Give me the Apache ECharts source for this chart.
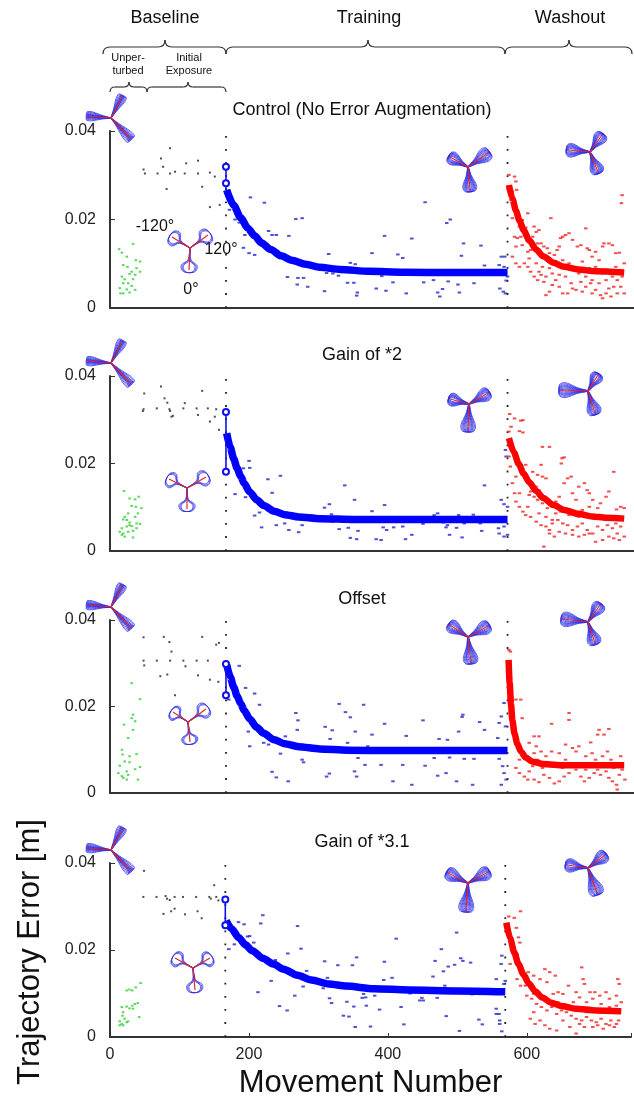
<!DOCTYPE html>
<html>
<head>
<meta charset="utf-8">
<title>Trajectory Error</title>
<script src="https://cdn.jsdelivr.net/npm/echarts@6/dist/echarts.min.js"></script>
<style>
html, body { margin: 0; padding: 0; background: #fff; }
#chart { width: 634px; height: 1100px; }
</style>
</head>
<body>
<div id="chart"></div>
<script>
// ---- data: [movement number, trajectory error (m)] ----
const phaseBounds = [166, 569];
const panelTitles = ['Control (No Error Augmentation)', 'Gain of *2', 'Offset', 'Gain of *3.1'];

const green1 = [[33,0.0145],[13,0.0133],[17,0.0125],[24,0.0116],[37,0.0108],[43,0.0105],[19,0.0097],[25,0.0093],[31,0.0082],[38,0.0090],[43,0.0082],[28,0.0077],[36,0.0075],[17,0.0071],[21,0.0065],[33,0.0065],[26,0.0056],[19,0.0056],[31,0.0050],[14,0.0045],[24,0.0042],[36,0.0041],[19,0.0033],[28,0.0035],[15,0.0033]];
const black1 = [[86,0.0361],[73,0.0338],[109,0.0327],[126,0.0333],[48,0.0313],[50,0.0304],[68,0.0304],[76,0.0319],[86,0.0304],[93,0.0308],[107,0.0304],[126,0.0304],[143,0.0306],[150,0.0297],[132,0.0274],[81,0.0269],[143,0.0228],[157,0.0233]];
const blue1 = [[171,0.0222],[201,0.0250],[221,0.0238],[179,0.0200],[185,0.0193],[193,0.0165],[191,0.0136],[199,0.0124],[207,0.0120],[227,0.0174],[232,0.0165],[238,0.0165],[256,0.0163],[266,0.0201],[275,0.0203],[254,0.0070],[269,0.0068],[277,0.0068],[268,0.0053],[283,0.0048],[307,0.0038],[313,0.0122],[310,0.0079],[319,0.0078],[327,0.0073],[340,0.0057],[349,0.0057],[344,0.0102],[351,0.0099],[354,0.0035],[353,0.0028],[375,0.0124],[381,0.0044],[389,0.0072],[393,0.0163],[395,0.0039],[405,0.0058],[412,0.0121],[419,0.0113],[432,0.0157],[424,0.0033],[449,0.0058],[451,0.0239],[463,0.0063],[469,0.0035],[472,0.0026],[476,0.0043],[482,0.0192],[487,0.0200],[484,0.0060],[498,0.0053],[500,0.0035],[503,0.0118],[506,0.0146],[521,0.0056],[531,0.0141],[536,0.0096],[557,0.0097],[564,0.0093],[560,0.0116],[565,0.0116],[558,0.0044],[563,0.0037],[566,0.0033],[567,0.0062],[569,0.0071]];
const red1 = [[571,0.0301],[579,0.0297],[581,0.0286],[576,0.0263],[582,0.0267],[574,0.0244],[576,0.0203],[598,0.0214],[590,0.0199],[586,0.0184],[595,0.0182],[579,0.0161],[583,0.0158],[588,0.0161],[590,0.0142],[581,0.0139],[598,0.0127],[602,0.0131],[607,0.0184],[610,0.0172],[614,0.0176],[605,0.0161],[612,0.0146],[617,0.0146],[621,0.0139],[626,0.0135],[631,0.0203],[629,0.0124],[636,0.0120],[640,0.0131],[643,0.0139],[645,0.0158],[648,0.0161],[652,0.0165],[657,0.0169],[662,0.0154],[669,0.0139],[674,0.0142],[681,0.0180],[683,0.0135],[686,0.0131],[690,0.0116],[695,0.0127],[700,0.0108],[705,0.0139],[707,0.0146],[714,0.0146],[719,0.0142],[724,0.0124],[729,0.0125],[733,0.0255],[732,0.0237],[736,0.0101],[731,0.0082],[726,0.0063],[721,0.0048],[714,0.0044],[710,0.0033],[702,0.0029],[695,0.0041],[688,0.0056],[681,0.0048],[674,0.0059],[667,0.0041],[660,0.0056],[655,0.0033],[648,0.0033],[643,0.0048],[638,0.0063],[633,0.0052],[629,0.0037],[624,0.0029],[621,0.0059],[617,0.0075],[612,0.0063],[607,0.0071],[602,0.0082],[598,0.0093],[593,0.0101],[586,0.0093],[581,0.0101],[576,0.0116],[600,0.0112],[610,0.0101],[619,0.0093],[629,0.0090],[638,0.0101],[648,0.0108],[657,0.0101],[667,0.0093],[676,0.0105],[686,0.0090],[695,0.0093],[705,0.0078],[714,0.0082],[724,0.0093],[731,0.0048],[726,0.0033],[717,0.0026],[705,0.0022],[690,0.0033],[676,0.0037],[662,0.0044],[652,0.0071],[643,0.0075],[633,0.0078],[624,0.0071],[614,0.0082],[671,0.0078],[681,0.0071],[690,0.0063],[700,0.0056],[710,0.0063],[719,0.0071],[733,0.0071],[736,0.0033]];
const blueFit1 = [[167,0.0267],[177,0.0232],[187,0.0204],[197,0.0181],[207,0.0163],[217,0.0147],[230,0.0132],[245,0.0118],[260,0.0108],[280,0.0099],[300,0.0092],[330,0.0087],[370,0.0083],[420,0.0081],[490,0.0080],[569,0.0080]];
const redFit1 = [[571,0.0278],[576,0.0247],[581,0.0220],[586,0.0198],[592,0.0176],[600,0.0153],[610,0.0132],[620,0.0117],[635,0.0102],[650,0.0093],[670,0.0087],[695,0.0083],[736,0.0080]];
const probe1 = [[166,0.0319],[166,0.0282],[166,0.0267]];

const green2 = [[20,0.0137],[28,0.0120],[36,0.0118],[41,0.0124],[31,0.0103],[37,0.0101],[45,0.0098],[26,0.0086],[40,0.0086],[36,0.0078],[19,0.0072],[24,0.0071],[28,0.0065],[38,0.0063],[43,0.0062],[17,0.0052],[24,0.0056],[31,0.0057],[14,0.0044],[19,0.0040],[26,0.0044],[33,0.0046],[38,0.0052],[17,0.0037],[21,0.0033],[33,0.0031],[28,0.0059],[21,0.0078]];
const black2 = [[73,0.0376],[49,0.0360],[78,0.0349],[82,0.0339],[132,0.0366],[48,0.0324],[47,0.0320],[67,0.0326],[85,0.0324],[86,0.0320],[107,0.0338],[105,0.0326],[124,0.0326],[140,0.0326],[152,0.0324],[90,0.0309],[88,0.0307],[126,0.0311],[143,0.0296],[150,0.0307],[156,0.0277]];
const blue2 = [[179,0.0130],[194,0.0123],[191,0.0189],[200,0.0190],[199,0.0206],[207,0.0081],[214,0.0088],[217,0.0054],[226,0.0164],[232,0.0133],[238,0.0059],[244,0.0172],[250,0.0063],[256,0.0048],[270,0.0043],[275,0.0059],[336,0.0150],[350,0.0117],[307,0.0099],[314,0.0107],[317,0.0084],[375,0.0091],[393,0.0105],[319,0.0067],[328,0.0050],[341,0.0053],[355,0.0046],[344,0.0030],[353,0.0027],[391,0.0054],[396,0.0048],[406,0.0054],[419,0.0056],[432,0.0037],[423,0.0027],[381,0.0027],[388,0.0025],[448,0.0062],[464,0.0082],[469,0.0086],[477,0.0065],[481,0.0054],[483,0.0059],[486,0.0037],[496,0.0053],[499,0.0082],[504,0.0031],[507,0.0063],[520,0.0083],[530,0.0063],[532,0.0046],[536,0.0150],[556,0.0052],[564,0.0056],[560,0.0117],[564,0.0107],[569,0.0101],[566,0.0231],[567,0.0216],[557,0.0040],[564,0.0033],[569,0.0037]];
const red2 = [[572,0.0313],[579,0.0303],[588,0.0298],[591,0.0299],[574,0.0284],[571,0.0273],[586,0.0274],[591,0.0271],[574,0.0242],[571,0.0216],[573,0.0193],[595,0.0197],[605,0.0181],[612,0.0174],[619,0.0170],[624,0.0166],[619,0.0238],[629,0.0238],[647,0.0212],[650,0.0214],[646,0.0200],[617,0.0197],[610,0.0147],[614,0.0139],[602,0.0136],[600,0.0128],[607,0.0124],[612,0.0117],[619,0.0109],[626,0.0098],[633,0.0101],[638,0.0113],[643,0.0124],[650,0.0155],[655,0.0166],[660,0.0170],[662,0.0132],[667,0.0117],[671,0.0147],[679,0.0155],[683,0.0139],[686,0.0132],[691,0.0117],[698,0.0098],[702,0.0109],[710,0.0124],[714,0.0136],[721,0.0181],[725,0.0095],[731,0.0101],[736,0.0098],[576,0.0155],[579,0.0132],[581,0.0113],[586,0.0101],[591,0.0090],[595,0.0082],[602,0.0078],[610,0.0067],[617,0.0059],[624,0.0056],[629,0.0048],[633,0.0063],[641,0.0071],[648,0.0063],[655,0.0059],[662,0.0048],[669,0.0056],[676,0.0063],[683,0.0048],[691,0.0040],[698,0.0056],[705,0.0048],[712,0.0059],[719,0.0052],[726,0.0040],[731,0.0056],[736,0.0033],[729,0.0025],[721,0.0029],[714,0.0033],[705,0.0025],[695,0.0021],[686,0.0040],[679,0.0037],[671,0.0033],[662,0.0037],[652,0.0040],[643,0.0044],[636,0.0033],[629,0.0040],[621,0.0010],[633,0.0071],[645,0.0090],[657,0.0082],[667,0.0086],[676,0.0094],[686,0.0101],[695,0.0082],[705,0.0078],[714,0.0075],[724,0.0063],[671,0.0078],[652,0.0095],[638,0.0086],[624,0.0078],[614,0.0086],[598,0.0101],[586,0.0132],[581,0.0170]];
const blueFit2 = [[167,0.0269],[172,0.0238],[177,0.0211],[182,0.0189],[187,0.0171],[192,0.0155],[200,0.0135],[210,0.0117],[220,0.0104],[235,0.0091],[250,0.0083],[270,0.0078],[300,0.0074],[350,0.0072],[569,0.0072]];
const redFit2 = [[571,0.0258],[578,0.0226],[585,0.0199],[592,0.0177],[600,0.0157],[610,0.0137],[620,0.0121],[635,0.0105],[650,0.0094],[670,0.0085],[690,0.0079],[710,0.0076],[736,0.0074]];
const probe2 = [[166,0.0318],[166,0.0181]];

const green3 = [[31,0.0254],[43,0.0217],[33,0.0181],[31,0.0173],[36,0.0166],[20,0.0158],[33,0.0146],[26,0.0127],[17,0.0100],[18,0.0089],[28,0.0085],[38,0.0090],[21,0.0073],[28,0.0071],[14,0.0063],[43,0.0060],[36,0.0055],[24,0.0050],[19,0.0035],[24,0.0031],[17,0.0039],[40,0.0031],[26,0.0042],[12,0.0046]];
const black3 = [[48,0.0360],[77,0.0361],[85,0.0349],[132,0.0361],[88,0.0327],[48,0.0306],[49,0.0295],[67,0.0306],[86,0.0306],[105,0.0306],[124,0.0306],[140,0.0306],[108,0.0293],[152,0.0343],[156,0.0347],[72,0.0270],[82,0.0274],[126,0.0272],[143,0.0262],[155,0.0257],[93,0.0226]];
const blue3 = [[185,0.0294],[194,0.0243],[207,0.0230],[214,0.0204],[170,0.0216],[198,0.0142],[200,0.0108],[220,0.0116],[227,0.0112],[232,0.0049],[238,0.0036],[244,0.0091],[251,0.0131],[255,0.0027],[266,0.0185],[269,0.0168],[268,0.0146],[275,0.0077],[277,0.0071],[308,0.0153],[310,0.0038],[314,0.0045],[318,0.0145],[315,0.0125],[328,0.0206],[337,0.0187],[344,0.0175],[340,0.0116],[351,0.0142],[355,0.0081],[350,0.0050],[353,0.0038],[363,0.0204],[365,0.0065],[369,0.0108],[375,0.0135],[393,0.0160],[424,0.0132],[448,0.0168],[471,0.0125],[483,0.0123],[499,0.0142],[505,0.0181],[504,0.0176],[529,0.0164],[536,0.0146],[555,0.0127],[557,0.0162],[566,0.0154],[564,0.0208],[560,0.0177],[388,0.0065],[405,0.0027],[419,0.0065],[432,0.0019],[451,0.0063],[464,0.0081],[469,0.0040],[481,0.0046],[486,0.0082],[496,0.0027],[507,0.0079],[519,0.0019],[521,0.0079],[557,0.0079],[562,0.0062],[564,0.0046],[567,0.0031],[560,0.0019],[414,0.0104],[467,0.0103],[476,0.0103]];
const red3 = [[571,0.0331],[573,0.0327],[571,0.0216],[581,0.0216],[588,0.0216],[590,0.0173],[657,0.0185],[657,0.0169],[632,0.0160],[700,0.0146],[707,0.0135],[714,0.0148],[698,0.0135],[688,0.0117],[671,0.0108],[662,0.0104],[652,0.0112],[643,0.0092],[632,0.0096],[614,0.0131],[607,0.0131],[600,0.0116],[610,0.0108],[617,0.0096],[624,0.0085],[607,0.0092],[602,0.0077],[595,0.0085],[586,0.0077],[581,0.0058],[586,0.0046],[593,0.0038],[600,0.0050],[607,0.0031],[614,0.0025],[621,0.0042],[629,0.0035],[636,0.0022],[643,0.0027],[650,0.0038],[657,0.0046],[662,0.0062],[667,0.0054],[674,0.0038],[679,0.0027],[686,0.0035],[693,0.0046],[698,0.0054],[702,0.0042],[710,0.0050],[714,0.0035],[719,0.0027],[725,0.0019],[729,0.0042],[733,0.0054],[737,0.0031],[726,0.0008],[721,0.0058],[717,0.0077],[705,0.0085],[690,0.0092],[681,0.0085],[671,0.0065],[652,0.0077],[638,0.0065],[629,0.0062],[619,0.0058],[612,0.0077],[605,0.0062],[598,0.0031],[648,0.0058],[683,0.0062],[695,0.0077],[712,0.0096],[724,0.0065],[731,0.0085],[667,0.0096],[690,0.0069],[681,0.0054]];
const blueFit3 = [[167,0.0297],[172,0.0269],[177,0.0245],[182,0.0224],[187,0.0207],[192,0.0191],[200,0.0171],[210,0.0152],[220,0.0138],[235,0.0123],[250,0.0114],[270,0.0107],[300,0.0102],[340,0.0099],[400,0.0098],[569,0.0098]];
const redFit3 = [[570.5,0.0308],[572,0.0255],[574,0.0205],[576,0.0167],[579,0.0137],[583,0.0114],[588,0.0096],[595,0.0082],[605,0.0072],[620,0.0067],[650,0.0064],[736,0.0064]];
const probe3 = [[166,0.0298],[166,0.0226]];

const green4 = [[24,0.0107],[28,0.0109],[32,0.0107],[37,0.0114],[44,0.0124],[17,0.0069],[19,0.0057],[24,0.0070],[28,0.0066],[32,0.0072],[36,0.0076],[40,0.0078],[33,0.0065],[42,0.0046],[18,0.0049],[21,0.0042],[14,0.0036],[17,0.0030],[24,0.0034],[26,0.0036],[19,0.0027],[14,0.0027]];
const black4 = [[49,0.0382],[48,0.0322],[67,0.0322],[80,0.0324],[82,0.0318],[86,0.0315],[93,0.0322],[105,0.0322],[124,0.0322],[143,0.0322],[145,0.0318],[153,0.0322],[150,0.0349],[88,0.0289],[93,0.0295],[77,0.0283],[108,0.0282],[126,0.0289],[132,0.0273],[156,0.0314]];
const blue4 = [[171,0.0202],[179,0.0213],[185,0.0264],[193,0.0259],[201,0.0232],[198,0.0231],[207,0.0217],[217,0.0261],[220,0.0280],[213,0.0103],[232,0.0129],[238,0.0177],[244,0.0071],[255,0.0061],[256,0.0192],[266,0.0095],[270,0.0255],[275,0.0203],[278,0.0116],[283,0.0152],[309,0.0174],[313,0.0136],[307,0.0112],[328,0.0165],[316,0.0089],[319,0.0078],[341,0.0081],[336,0.0049],[344,0.0047],[351,0.0070],[355,0.0183],[349,0.0165],[365,0.0099],[363,0.0090],[369,0.0072],[368,0.0091],[381,0.0095],[388,0.0063],[375,0.0024],[353,0.0023],[394,0.0131],[395,0.0173],[406,0.0136],[412,0.0226],[419,0.0069],[423,0.0029],[432,0.0100],[446,0.0084],[449,0.0090],[451,0.0084],[465,0.0139],[468,0.0175],[471,0.0090],[477,0.0202],[480,0.0151],[482,0.0118],[484,0.0048],[487,0.0162],[496,0.0166],[499,0.0240],[505,0.0181],[508,0.0175],[519,0.0171],[503,0.0014],[521,0.0098],[531,0.0040],[536,0.0029],[556,0.0133],[556,0.0053],[556,0.0065],[560,0.0053],[561,0.0038],[564,0.0187],[563,0.0168],[567,0.0122],[569,0.0129],[561,0.0030],[564,0.0013]];
const red4 = [[574,0.0277],[582,0.0274],[591,0.0289],[585,0.0251],[588,0.0229],[590,0.0217],[586,0.0190],[576,0.0168],[586,0.0133],[595,0.0141],[591,0.0118],[602,0.0149],[610,0.0141],[619,0.0133],[626,0.0156],[633,0.0149],[629,0.0126],[641,0.0141],[645,0.0103],[652,0.0099],[660,0.0118],[660,0.0072],[679,0.0160],[681,0.0133],[683,0.0122],[691,0.0103],[698,0.0103],[705,0.0095],[714,0.0103],[719,0.0088],[731,0.0133],[733,0.0122],[736,0.0080],[729,0.0095],[600,0.0095],[607,0.0088],[614,0.0076],[621,0.0069],[629,0.0061],[636,0.0069],[643,0.0053],[650,0.0061],[657,0.0057],[664,0.0049],[671,0.0042],[679,0.0038],[686,0.0046],[693,0.0038],[700,0.0034],[707,0.0042],[714,0.0030],[721,0.0038],[729,0.0030],[732,0.0038],[605,0.0042],[612,0.0030],[619,0.0038],[626,0.0027],[633,0.0019],[643,0.0015],[652,0.0038],[662,0.0023],[671,0.0008],[676,0.0030],[683,0.0023],[695,0.0023],[702,0.0027],[710,0.0019],[719,0.0027],[726,0.0023],[598,0.0118],[610,0.0099],[624,0.0088],[645,0.0080],[667,0.0080],[676,0.0091],[686,0.0080],[695,0.0088],[707,0.0076],[719,0.0069],[729,0.0072],[671,0.0103],[638,0.0099],[714,0.0057],[700,0.0061],[686,0.0057],[610,0.0057]];
const blueFit4 = [[167,0.0267],[175,0.0249],[185,0.0229],[195,0.0212],[205,0.0198],[220,0.0181],[235,0.0168],[250,0.0156],[270,0.0142],[290,0.0131],[315,0.0122],[340,0.0117],[380,0.0111],[430,0.0108],[500,0.0106],[569,0.0104]];
const redFit4 = [[570.5,0.0263],[576,0.0227],[582,0.0194],[588,0.0168],[595,0.0144],[603,0.0123],[612,0.0105],[622,0.0091],[635,0.0079],[650,0.0071],[670,0.0065],[700,0.0061],[736,0.0059]];
const probe4 = [[166,0.0316],[166,0.0257]];

const panels = [
  { green: green1, black: black1, blue: blue1, red: red1, blueFit: blueFit1, redFit: redFit1, probe: probe1 },
  { green: green2, black: black2, blue: blue2, red: red2, blueFit: blueFit2, redFit: redFit2, probe: probe2 },
  { green: green3, black: black3, blue: blue3, red: red3, blueFit: blueFit3, redFit: redFit3, probe: probe3 },
  { green: green4, black: black4, blue: blue4, red: red4, blueFit: blueFit4, redFit: redFit4, probe: probe4 }
];

// ---- layout ----
const FONT = 'Liberation Sans, Arial, sans-serif';
const gridTops = [131, 376, 620, 863];
const gridHeights = [177, 175, 173, 175];

const chart = echarts.init(document.getElementById('chart'));

const grids = [], xAxes = [], yAxes = [], series = [];
panels.forEach((p, i) => {
  const last = i === panels.length - 1;
  grids.push({ left: 110, top: gridTops[i], width: 525, height: gridHeights[i] });
  xAxes.push({
    gridIndex: i, type: 'value', min: 0, max: 750, interval: 200,
    axisLine: { lineStyle: { color: '#333', width: 2 } },
    axisTick: { show: last, inside: true, length: 4, lineStyle: { color: '#333' } },
    axisLabel: { show: last, fontSize: 16, color: '#222', fontFamily: FONT, margin: 10,
      formatter: v => (v > 700 ? '' : v) },
    splitLine: { show: false },
    name: last ? 'Movement Number' : '',
    nameLocation: 'middle', nameGap: 31,
    nameTextStyle: { fontSize: 31, color: '#111', fontFamily: FONT }
  });
  yAxes.push({
    gridIndex: i, type: 'value', min: 0, max: 0.04, interval: 0.02,
    axisLine: { show: true, lineStyle: { color: '#333', width: 2 } },
    axisTick: { show: true, inside: true, length: 5, lineStyle: { color: '#333' } },
    axisLabel: { fontSize: 16, color: '#222', fontFamily: FONT, margin: 14 },
    splitLine: { show: false }
  });
  const dot = (data, color, size) => ({
    type: 'scatter', xAxisIndex: i, yAxisIndex: i, data,
    symbol: 'rect', symbolSize: size, itemStyle: { color }, silent: true
  });
  // dotted phase boundaries
  phaseBounds.forEach(b => series.push({
    type: 'line', xAxisIndex: i, yAxisIndex: i, data: [[b, 0], [b, 0.0405]],
    showSymbol: false, silent: true,
    lineStyle: { color: '#222', width: 1.8, type: [1.8, 11.3] }, z: 1
  }));
  series.push(dot(p.green, '#30d030', [2.5, 2]));
  series.push(dot(p.black, '#222', [2, 2]));
  series.push(dot(p.blue, '#2424c8', [3.5, 2]));
  series.push(dot(p.red, '#ee2222', [3.5, 2]));
  series.push({
    type: 'line', xAxisIndex: i, yAxisIndex: i, data: p.probe.map((d, k) => (k < 2 ? d : { value: d, symbol: 'none' })),
    symbol: 'emptyCircle', symbolSize: 6, lineStyle: { color: '#1010ee', width: 1.6 },
    itemStyle: { color: '#1010ee', borderWidth: 1.5 }, z: 4
  });
  series.push({
    type: 'line', xAxisIndex: i, yAxisIndex: i, data: p.blueFit, showSymbol: false,
    smooth: 0.25, smoothMonotone: 'x', lineStyle: { color: '#0000ff', width: 7.5, join: 'round' }, z: 3
  });
  series.push({
    type: 'line', xAxisIndex: i, yAxisIndex: i, data: p.redFit, showSymbol: false,
    smooth: 0.25, smoothMonotone: 'x', lineStyle: { color: '#ff0000', width: 6.5, join: 'round' }, z: 3
  });
});

// ---- decorations: braces, labels, trajectory glyphs ----
const graphics = [];
const braceStyle = { fill: 'none', stroke: '#333', lineWidth: 1.2 };
function brace(x1, x2, tip, y, h) {
  const curves = [
    [x1, y + h, x1 + h, y, x1, y],
    [tip - h, y, tip, y - h, tip, y],
    [tip, y - h, tip + h, y, tip, y],
    [x2 - h, y, x2, y + h, x2, y]
  ];
  curves.forEach(c => graphics.push({ type: 'bezierCurve',
    shape: { x1: c[0], y1: c[1], x2: c[2], y2: c[3], cpx1: c[4], cpy1: c[5] }, style: braceStyle }));
  graphics.push({ type: 'line', shape: { x1: x1 + h, y1: y, x2: tip - h, y2: y }, style: braceStyle });
  graphics.push({ type: 'line', shape: { x1: tip + h, y1: y, x2: x2 - h, y2: y }, style: braceStyle });
}
brace(103, 226, 165, 47, 7);
brace(226, 505, 368, 47, 7);
brace(505, 632, 569, 47, 7);
brace(110, 147, 129, 87, 5);
brace(147, 226, 188, 87, 5);

function label(text, x, y, size, rotation) {
  graphics.push({ type: 'text', x, y, rotation: rotation || 0,
    style: { text, fontSize: size, fontFamily: FONT, fill: '#111', align: 'center', verticalAlign: 'middle' } });
}
label('Baseline', 165, 18, 18);
label('Training', 369, 18, 18);
label('Washout', 570, 18, 18);
label('Unper-', 128, 58, 11);
label('turbed', 128, 71, 11);
label('Initial', 189, 58, 11);
label('Exposure', 189, 71, 11);
panelTitles.forEach((t, i) => label(t, 362, gridTops[i] - 21, 18));
label('-120°', 155, 227, 16);
label('120°', 221, 250, 16);
label('0°', 191, 290, 16);
label('Trajectory Error [m]', 30, 952, 31, Math.PI / 2);

function glyph(cx, cy, arms, kind) {
  const w = kind === 'bulb' ? 9 : (kind === 'thin' ? 3 : 7);
  const prof = kind === 'bulb'
    ? [[0, 0], [0.55, 0.1], [0.8, 0.75], [1.05, 0.6], [1.12, 0], [1.05, -0.6], [0.8, -0.75], [0.55, -0.1]]
    : [[0, 0], [0.4, 0.2], [0.85, 0.6], [1.05, 0.35], [1.08, 0], [1.05, -0.35], [0.85, -0.6], [0.4, -0.2]];
  const turns = kind === 'bulb' ? [-0.06, 0, 0.06] : [-0.14, -0.09, -0.04, 0, 0.04, 0.09, 0.14];
  arms.forEach(([dx, dy]) => {
    turns.forEach(t => {
      const a = Math.atan2(dy, dx) + t, L = Math.hypot(dx, dy);
      const ux = Math.cos(a), uy = Math.sin(a);
      const pts = prof.map(([s, n]) => [cx + ux * s * L - uy * n * w, cy + uy * s * L + ux * n * w]);
      graphics.push({ type: 'polygon', shape: { points: pts, smooth: 0.4 },
        style: { fill: 'none', stroke: '#2a2ae6', lineWidth: 0.9, opacity: 0.85 }, z: 10 });
    });
    graphics.push({ type: 'line', shape: { x1: cx, y1: cy, x2: cx + dx, y2: cy + dy },
      style: { stroke: '#e02828', lineWidth: 1.2 }, z: 11 });
  });
}
const cornerArms = [[-23, -2], [11, -21], [19, 20]];
gridTops.forEach(t => glyph(111, t - 13, cornerArms, 'thin'));
glyph(190, 248, [[-18, -11], [18, -13], [-1, 22]], 'bulb');
glyph(468, 167, [[-18, -10], [20, -14], [2, 23]], 'petal');
glyph(590, 152, [[-22, -2], [12, -17], [8, 20]], 'petal');
glyph(187, 488, [[-18, -9], [19, -11], [0, 21]], 'bulb');
glyph(469, 404, [[-19, -5], [19, -11], [-1, 26]], 'petal');
glyph(588, 391, [[-27, -1], [10, -16], [7, 22]], 'petal');
glyph(188, 722, [[-15, -10], [18, -13], [2, 20]], 'bulb');
glyph(468, 637, [[-18, -12], [20, -11], [3, 25]], 'petal');
glyph(588, 622, [[-25, -3], [12, -17], [7, 21]], 'petal');
glyph(193, 968, [[-18, -10], [17, -10], [2, 22]], 'bulb');
glyph(468, 883, [[-20, -10], [20, -11], [-2, 27]], 'petal');
glyph(588, 868, [[-21, -3], [17, -13], [9, 25]], 'petal');

chart.setOption({
  animation: false,
  backgroundColor: '#fff',
  grid: grids,
  xAxis: xAxes,
  yAxis: yAxes,
  series: series,
  graphic: graphics
});

window.addEventListener('resize', () => chart.resize());
</script>
</body>
</html>
